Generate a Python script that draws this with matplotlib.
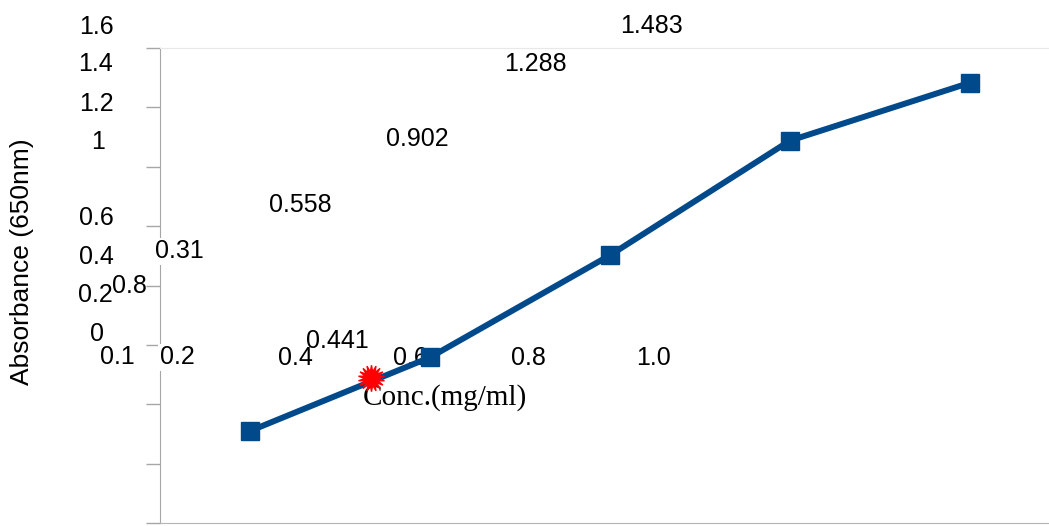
import numpy as np
import matplotlib.pyplot as plt

W, H = 1049, 526

# standard curve
conc = [0.2, 0.4, 0.6, 0.8, 1.0]
absorb = [0.31, 0.558, 0.902, 1.288, 1.483]

# unknown sample (red marker)
sample_conc = [0.334]
sample_abs = [0.488]

# stray labels as they appear in the picture
left_labels = ["1.6", "1.4", "1.2", "1", "0.6", "0.4", "0.2", "0.8", "0"]
cat_labels = ["0.1", "0.2", "0.4", "0.6", "0.8", "1.0"]
value_labels = ["0.31", "0.558", "0.902", "1.288", "1.483", "0.441"]

# pixel positions (layout)
left_pos = [(96, 27), (96, 64), (96, 104), (98, 142), (96, 218), (96, 257),
            (95, 295), (129, 286), (97, 334)]
cat_pos = [(117, 357), (177, 357), (295, 358), (410, 358), (528, 358), (653, 358)]
value_pos = [(179, 251), (300, 205), (417, 139), (535, 64), (652, 26), (337, 341)]
boxed = {"0.31", "1.288"}

plt.rcParams['font.family'] = ['Liberation Sans', 'DejaVu Sans']

fig = plt.figure(figsize=(W / 100, H / 100), dpi=100)
ax_left, ax_top, ax_bot = 160, 48, 523
ax = fig.add_axes([ax_left / W, 1 - ax_bot / H, 900 / W, (ax_bot - ax_top) / H])
ax.set_xlim(0.1, 1.1)
ax.set_ylim(0, 1.6)

ax.plot(conc, absorb, color="#004a8c", lw=4.3, marker="s", ms=13,
        zorder=5, clip_on=False)
ax.plot(sample_conc, sample_abs, ls="none", marker=(18, 1, 0), ms=19,
        color="red", mec="red", zorder=6, clip_on=False)

ax.set_xticks([])
ax.set_yticks(np.arange(0, 1.61, 0.2))
ax.set_yticklabels([])
ax.tick_params(axis="y", direction="out", length=10, width=1, color="#a6a6a6")
ax.spines["left"].set_color("#a6a6a6")
ax.spines["bottom"].set_color("#b4b4b4")
ax.spines["top"].set_color("#e8e8e8")
ax.spines["right"].set_visible(False)


def put(txt, xy, size=18, **kw):
    t = ax.text(xy[0] / W, 1 - xy[1] / H, txt, transform=fig.transFigure,
                ha="center", va="center", fontsize=size, color="black",
                zorder=4, clip_on=False, **kw)
    if txt in boxed:
        t.set_bbox(dict(facecolor="white", edgecolor="none", pad=1))
    return t


for s, p in zip(left_labels, left_pos):
    put(s, p)
for s, p in zip(cat_labels, cat_pos):
    t = put(s, p)
    if s == "0.2":
        t.set_bbox(dict(facecolor="white", edgecolor="none", pad=1))
for s, p in zip(value_labels, value_pos):
    put(s, p)

put("Conc.(mg/ml)", (445, 398), size=21, family="Liberation Serif")
fig.text(22 / W, 1 - 262 / H, "Absorbance (650nm)", rotation=90,
         ha="center", va="center", fontsize=19)

fig.savefig("out.png", dpi=100)
